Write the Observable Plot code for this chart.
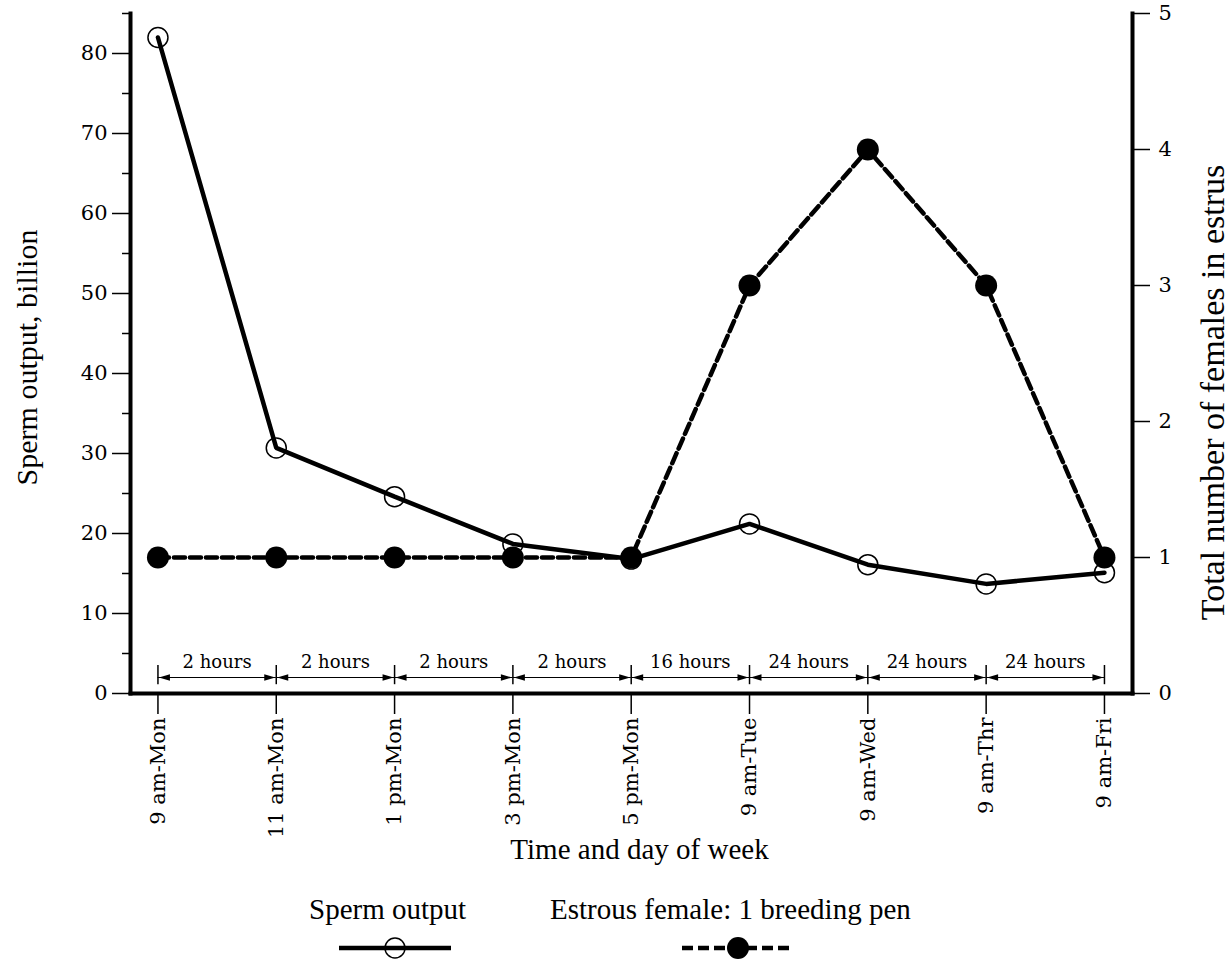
<!DOCTYPE html>
<html><head><meta charset="utf-8">
<script src="https://cdn.jsdelivr.net/npm/d3@7"></script>
<script src="https://cdn.jsdelivr.net/npm/@observablehq/plot@0.6"></script>
<style>
body{margin:0;background:#fff;}
#wrap{position:relative;width:1232px;height:960px;overflow:hidden;}
.leg{position:absolute;font-family:"Liberation Serif",serif;font-size:29px;line-height:29px;color:#000;white-space:nowrap;}
.sw{position:absolute;}
</style></head><body><div id="wrap"></div>
<script>
// ---- data ----
const times = ["9 am-Mon","11 am-Mon","1 pm-Mon","3 pm-Mon","5 pm-Mon","9 am-Tue","9 am-Wed","9 am-Thr","9 am-Fri"];
const sperm = [82, 30.7, 24.6, 18.7, 16.8, 21.2, 16.1, 13.7, 15.1];
const estrus = [1, 1, 1, 1, 1, 3, 4, 3, 1];
const intervals = ["2 hours","2 hours","2 hours","2 hours","16 hours","24 hours","24 hours","24 hours"];
const leftTicks = [0,10,20,30,40,50,60,70,80];
const leftMinor = [5,15,25,35,45,55,65,75,85];
const rightTicks = [0,1,2,3,4,5];
const leftMax = 85, rightMax = 5;
const ratio = leftMax / rightMax;

const idx = times.map((_, i) => i);
const data = idx.map(i => ({i, time: times[i], sperm: sperm[i], estrus: estrus[i] * ratio}));
const ivals = intervals.map((label, i) => ({i, label}));

// annotation band (in left-axis units)
const ARROW_Y = 2.0, TICK_Y1 = 1.1, TICK_Y2 = 3.5, LABEL_Y = 4.2;

const serif = "DejaVu Serif";
const title = "Liberation Serif";

const chart = Plot.plot({
  width: 1232,
  height: 885,
  marginLeft: 130,
  marginRight: 100,
  marginTop: 13,
  marginBottom: 192,
  style: {fontFamily: serif, fontSize: "21px", color: "#000", background: "#fff"},
  x: {type: "linear", domain: [-0.232, 8.237]},
  y: {domain: [0, leftMax]},
  marks: [
    // frame lines
    Plot.frame({anchor: "left", strokeWidth: 4}),
    Plot.frame({anchor: "bottom", strokeWidth: 4}),
    Plot.frame({anchor: "right", strokeWidth: 4}),
    // axes
    Plot.axisY({ticks: leftTicks, tickSize: 18, tickPadding: 5, strokeWidth: 1.5, label: null, fontSize: 21}),
    Plot.axisY({ticks: leftMinor, tickSize: 8, tickFormat: () => "", strokeWidth: 1.5, label: null}),
    Plot.axisY({anchor: "right", ticks: rightTicks.map(v => v * ratio), tickFormat: d => d / ratio, tickSize: 17, tickPadding: 9, strokeWidth: 1.5, label: null, fontSize: 21}),
    Plot.axisX({ticks: idx, tickFormat: i => times[i], tickRotate: -90, tickSize: 21, tickPadding: 3, strokeWidth: 1.5, label: null, fontSize: 21}),
    // interval annotations
    Plot.ruleX(idx, {x: d => d, y1: TICK_Y1, y2: TICK_Y2, strokeWidth: 1.5}),
    Plot.ruleY(ivals, {x1: d => d.i, x2: d => d.i + 1, y: ARROW_Y, strokeWidth: 1.2}),
    Plot.vector(ivals, {x: d => d.i, y: ARROW_Y, rotate: -90, length: 11, r: 3.2, shape: "spike", anchor: "end", fill: "black", stroke: "none", dx: 1}),
    Plot.vector(ivals, {x: d => d.i + 1, y: ARROW_Y, rotate: 90, length: 11, r: 3.2, shape: "spike", anchor: "end", fill: "black", stroke: "none", dx: -1}),
    Plot.text(ivals, {x: d => d.i + 0.5, y: LABEL_Y, text: "label", fontFamily: serif, fontSize: 18, lineAnchor: "bottom", dy: 8}),
    // series
    Plot.line(data, {x: "i", y: "sperm", stroke: "black", strokeWidth: 4.5, strokeLinejoin: "miter"}),
    Plot.dot(data, {x: "i", y: "sperm", r: 10, stroke: "black", strokeWidth: 1.5, fill: "none"}),
    Plot.line(data, {x: "i", y: "estrus", stroke: "black", strokeWidth: 4.5, strokeDasharray: "11,5"}),
    Plot.dot(data, {x: "i", y: "estrus", r: 11, fill: "black", stroke: "none"}),
    // axis titles
    Plot.text(["Sperm output, billion"], {frameAnchor: "left", textAnchor: "middle", dx: -103, dy: 4, rotate: -90, fontFamily: title, fontSize: 30}),
    Plot.text(["Total number of females in estrus"], {frameAnchor: "right", textAnchor: "middle", dx: 81, dy: 39, rotate: -90, fontFamily: title, fontSize: 34}),
    Plot.text(["Time and day of week"], {frameAnchor: "bottom", dy: 165, dx: 8, fontFamily: title, fontSize: 29})
  ]
});

const wrap = document.getElementById("wrap");
wrap.appendChild(chart);

// legend (below the chart)
function addText(txt, left, top) {
  const d = document.createElement("div");
  d.className = "leg"; d.textContent = txt;
  d.style.left = left + "px"; d.style.top = top + "px";
  wrap.appendChild(d);
}
addText("Sperm output", 309, 895);
addText("Estrous female: 1 breeding pen", 550, 895);
const NS = "http://www.w3.org/2000/svg";
function swatch(left, dashed) {
  const s = document.createElementNS(NS, "svg");
  s.setAttribute("width", 124); s.setAttribute("height", 26);
  s.setAttribute("class", "sw");
  s.style.left = left + "px"; s.style.top = "935px";
  const l = document.createElementNS(NS, "line");
  l.setAttribute("x1", 4); l.setAttribute("x2", 116); l.setAttribute("y1", 13); l.setAttribute("y2", 13);
  l.setAttribute("stroke", "black"); l.setAttribute("stroke-width", 4.5);
  if (dashed) l.setAttribute("stroke-dasharray", "11,5");
  s.appendChild(l);
  const c = document.createElementNS(NS, "circle");
  c.setAttribute("cx", 60); c.setAttribute("cy", 13); c.setAttribute("r", dashed ? 11 : 10);
  if (dashed) { c.setAttribute("fill", "black"); }
  else { c.setAttribute("fill", "none"); c.setAttribute("stroke", "black"); c.setAttribute("stroke-width", 1.5); }
  s.appendChild(c);
  wrap.appendChild(s);
}
swatch(335, false);
swatch(678, true);
</script>
</body></html>
